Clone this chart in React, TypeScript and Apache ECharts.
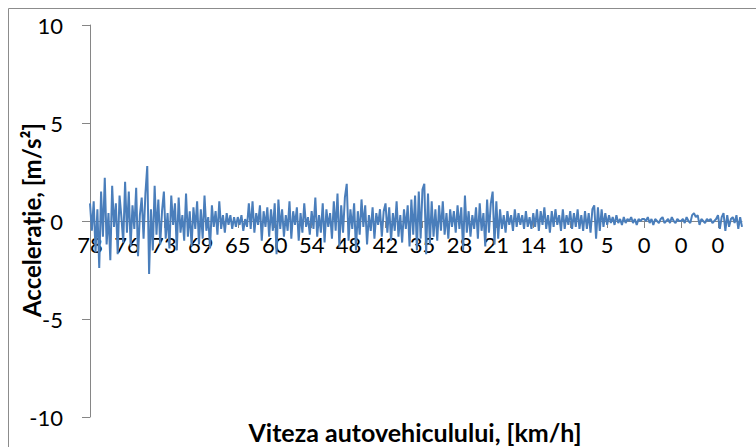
import React, { useEffect, useRef } from "react";
import * as echarts from "echarts";

const speedLabels = ["78", "76", "73", "69", "65", "60", "54", "48", "42", "35", "28", "21", "14", "10", "5", "0", "0", "0"];
const pointsPerLabel = 20;

const accel0 = [0.9, -0.5, 1.0, -1.6, 0.6, -2.4, 1.5, -0.8, 2.2, -1.2, 0.4, -2.0, 1.8, -0.3, 0.9, -1.7, 1.3, 0.2, -1.1, 2.0];
const accel1 = [-0.6, 1.5, -1.3, 0.8, -0.4, 1.7, -1.8, 0.3, 1.2, -0.9, 1.4, 2.8, -2.7, 0.6, -1.5, 1.8, -0.7, 1.1, -1.2, 0.5];
const accel2 = [1.5, -0.9, 0.4, -1.4, 1.3, -0.2, 0.9, -1.5, 1.2, -0.6, 0.3, -1.0, 1.4, -0.8, 0.5, -1.3, 0.7, -0.4, 1.0, -1.2];
const accel3 = [0.6, -0.9, 1.3, -0.5, 0.2, -1.4, 0.8, -0.3, 0.5, -0.7, 1.0, -0.4, 0.3, -0.6, 0.4, -0.2, 0.3, -0.4, 0.2, -0.3];
const accel4 = [0.2, -0.2, 0.3, -0.5, 0.1, -0.3, 0.9, -0.4, 1.0, -0.6, 0.4, -0.2, 0.8, -1.0, 0.5, -0.3, 0.7, -0.8, 0.6, -0.5];
const accel5 = [0.9, -1.7, 1.1, -0.4, 0.6, -0.8, 0.3, -0.5, 1.0, -0.9, 0.5, -0.2, 0.7, -1.0, 0.4, -0.6, 0.9, -0.3, 0.2, -0.7];
const accel6 = [0.5, -0.4, 1.2, -0.8, 0.3, -0.6, 0.9, -1.1, 0.6, -0.3, 0.4, -0.9, 1.0, -0.5, 1.4, -1.3, 0.8, -0.6, 1.2, 1.9];
const accel7 = [-1.0, 0.6, -0.4, 0.9, -1.5, 0.5, -0.7, 1.1, -0.3, 0.8, -1.2, 0.3, -0.5, 0.7, -0.9, 0.4, -0.2, 0.6, -0.8, 0.5];
const accel8 = [0.9, -0.6, 0.7, -1.0, 0.4, -0.5, 1.0, -0.8, 0.3, -1.1, 0.6, -0.4, 0.8, -1.3, 1.1, -0.7, 1.3, -1.5, 1.5, -0.9];
const accel9 = [1.6, 1.9, -1.7, 1.4, -1.2, 1.0, -0.8, 0.6, -1.0, 0.8, -0.5, 1.0, -0.7, 0.4, -0.9, 0.6, -0.3, 0.5, -0.6, 0.8];
const accel10 = [-0.4, 0.7, -1.5, 1.3, -0.6, 0.5, -0.8, 0.3, -0.4, 0.7, -0.9, 0.9, -0.5, 0.4, -1.3, 1.1, -0.6, 0.9, 1.5, -1.2];
const accel11 = [1.0, -0.9, 0.6, -0.4, 0.3, -0.6, 0.5, -0.2, 0.3, -0.5, 0.6, -0.3, 0.4, -0.2, 0.3, -0.4, 0.5, -0.3, 0.2, -0.4];
const accel12 = [0.4, -0.3, 0.6, -0.5, 0.5, -0.2, 0.7, -0.4, 0.3, -0.6, 0.5, -0.3, 0.6, -0.2, 0.3, -0.5, 0.6, -0.4, 0.3, -0.2];
const accel13 = [0.5, -0.4, 0.4, -0.3, 0.6, -0.4, 0.3, -0.5, 0.5, -0.4, 0.4, -0.6, 0.6, 0.8, -0.9, 0.7, -0.5, 0.6, -0.3, 0.4];
const accel14 = [-0.2, 0.3, -0.1, 0.2, -0.2, 0.3, -0.1, 0.1, -0.2, 0.2, -0.1, 0.1, 0.0, 0.2, -0.1, 0.1, -0.2, 0.1, 0.0, 0.1];
const accel15 = [0.1, 0.0, 0.2, -0.1, 0.1, -0.2, 0.1, 0.0, -0.1, 0.1, 0.2, -0.1, 0.0, 0.1, -0.1, 0.2, 0.0, -0.1, 0.1, 0.0];
const accel16 = [0.0, 0.1, -0.1, 0.2, 0.0, -0.1, 0.3, 0.4, 0.2, 0.3, -0.2, 0.1, 0.0, -0.1, 0.1, 0.0, 0.1, -0.1, 0.0, 0.1];
const accel17 = [0.3, -0.4, 0.2, 0.4, -0.5, 0.3, -0.3, 0.1, 0.2, -0.1, 0.3, -0.4, 0.2, -0.3];

const accelSegments = [accel0, accel1, accel2, accel3, accel4, accel5, accel6, accel7, accel8, accel9, accel10, accel11, accel12, accel13, accel14, accel15, accel16, accel17];

const yTitle = "Accelerație, [m/s²]";
const xTitle = "Viteza autovehiculului, [km/h]";

export default function App() {
  const ref = useRef<HTMLDivElement>(null);
  useEffect(() => {
    if (!ref.current) return;
    const chart = echarts.init(ref.current, undefined, { renderer: "svg" });
    const values: number[] = [];
    const cats: string[] = [];
    accelSegments.forEach((seg, si) => {
      seg.forEach((v) => {
        values.push(v);
        cats.push(speedLabels[si]);
      });
    });
    const font = "Lato, 'Open Sans', sans-serif";
    chart.setOption({
      animation: false,
      grid: { left: 90, top: 25, right: 14, bottom: 30, containLabel: false },
      xAxis: {
        type: "category",
        data: cats,
        boundaryGap: false,
        offset: -196,
        axisLine: { onZero: false, lineStyle: { color: "#868686", width: 1 } },
        axisTick: { show: true, interval: pointsPerLabel - 1, length: 7, lineStyle: { color: "#868686" } },
        axisLabel: { interval: pointsPerLabel - 1, color: "#000", fontFamily: font, fontSize: 22, margin: 12 },
        splitLine: { show: false },
      },
      yAxis: {
        type: "value",
        min: -10,
        max: 10,
        interval: 5,
        axisLine: { show: true, lineStyle: { color: "#868686", width: 1 } },
        axisTick: { show: true, inside: false, length: 8, lineStyle: { color: "#868686" } },
        axisLabel: { color: "#000", fontFamily: font, fontSize: 22, margin: 27 },
        splitLine: { show: false },
      },
      series: [
        {
          type: "line",
          data: values,
          showSymbol: false,
          symbol: "none",
          lineStyle: { color: "#4a7ebb", width: 2 },
        },
      ],
      graphic: [
        {
          type: "rect",
          shape: { x: 8.5, y: 8.5, width: 760, height: 460 },
          style: { fill: "none", stroke: "#8c8c8c", lineWidth: 1 },
          silent: true,
        },
        {
          type: "text",
          x: 31,
          y: 220,
          rotation: Math.PI / 2,
          style: {
            text: yTitle,
            fontFamily: font,
            fontWeight: "bold",
            fontSize: 24,
            fill: "#000",
            align: "center",
            verticalAlign: "middle",
          },
        },
        {
          type: "text",
          x: 415,
          y: 432,
          style: {
            text: xTitle,
            fontFamily: font,
            fontWeight: "bold",
            fontSize: 25,
            fill: "#000",
            align: "center",
            verticalAlign: "middle",
          },
        },
      ],
    });
    return () => chart.dispose();
  }, []);
  return (
    <div
      ref={ref}
      style={{ position: "absolute", left: 0, top: 0, width: 756, height: 447 }}
    />
  );
}
